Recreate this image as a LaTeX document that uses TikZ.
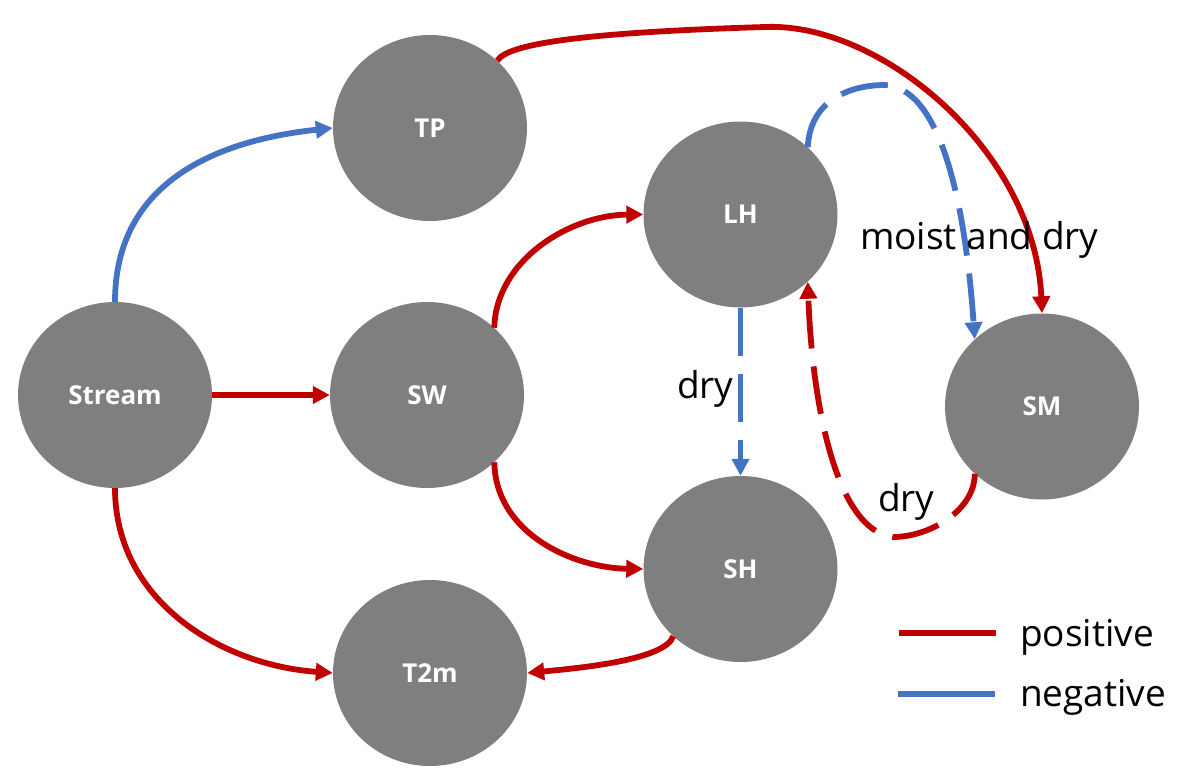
\documentclass[tikz,border=0pt]{standalone}
\usepackage{fontspec}
\setmainfont{Open Sans}
\usetikzlibrary{arrows.meta,shapes.geometric}
\definecolor{posc}{HTML}{C00000}
\definecolor{negc}{HTML}{4472C4}
\definecolor{nodegray}{HTML}{7F7F7F}
\begin{document}
\begin{tikzpicture}[x=1pt,y=-1pt,
  var/.style={ellipse, fill=nodegray, minimum width=194pt, minimum height=186pt, inner sep=0pt, text=white, font=\fontsize{26}{30}\selectfont\bfseries},
  link/.style={line width=5.8pt, -{Triangle[length=17pt,width=17pt]}},
  posl/.style={link, draw=posc},
  negl/.style={link, draw=negc},
  dsh/.style={dash pattern=on 48pt off 18pt},
  lbl/.style={font=\fontsize{37}{40}\selectfont, inner sep=0pt, anchor=base west},
  legline/.style={line width=6.5pt}]
\useasboundingbox (0,0) rectangle (1196,776);

\node[var] (Stream) at (115,395) {Stream};
\node[var] (TP) at (430,128) {TP};
\node[var] (SW) at (427,395) {SW};
\node[var] (LH) at (740.5,214.5) {LH};
\node[var] (SH) at (740.5,569) {SH};
\node[var] (SM) at (1042,406.5) {SM};
\node[var] (T2m) at (430,673) {T2m};

% solid links
\draw[negl] (Stream.north) .. controls (115,180) and (220,140) .. (TP.west);
\draw[posl] (Stream.east) -- (SW.west);
\draw[posl] (Stream.south) .. controls (115,600) and (220,665) .. (T2m.west);
\draw[posl] (SW.45) .. controls (496,260) and (570,215) .. (LH.west);
\draw[posl] (SW.-45) .. controls (496,535) and (575,568) .. (SH.west);
\draw[posl] (SH.225) .. controls (665,660) and (580,668) .. (T2m.east);
\draw[posl] (TP.45) .. controls (508,42) and (600,32) .. (765,27)
  .. controls (880,22) and (1035,150) .. (SM.north);

% dashed links
\draw[negl,dsh] (LH.45) .. controls (810,100) and (850,85) .. (885,85)
  .. controls (940,88) and (965,200) .. (SM.135);
\draw[negl,dsh] (LH.south) -- (SH.north);
\draw[posl,dsh] (SM.225) .. controls (975,510) and (930,537) .. (893,537)
  .. controls (835,530) and (812,400) .. (LH.-45);

% labels
\node[lbl] (lmd) at (860,249) {moist and dry};
\node[lbl] (ldry1) at (677,398) {dry};
\node[lbl] (ldry2) at (878,511) {dry};

% legend
\coordinate (lp1) at (899,633);
\coordinate (lp2) at (996,633);
\coordinate (ln1) at (898,694);
\coordinate (ln2) at (995,694);
\draw[legline,draw=posc] (lp1) -- (lp2);
\draw[legline,draw=negc] (ln1) -- (ln2);
\node[lbl] (lpos) at (1020,646) {positive};
\node[lbl] (lneg) at (1020,706) {negative};
\end{tikzpicture}
\end{document}
